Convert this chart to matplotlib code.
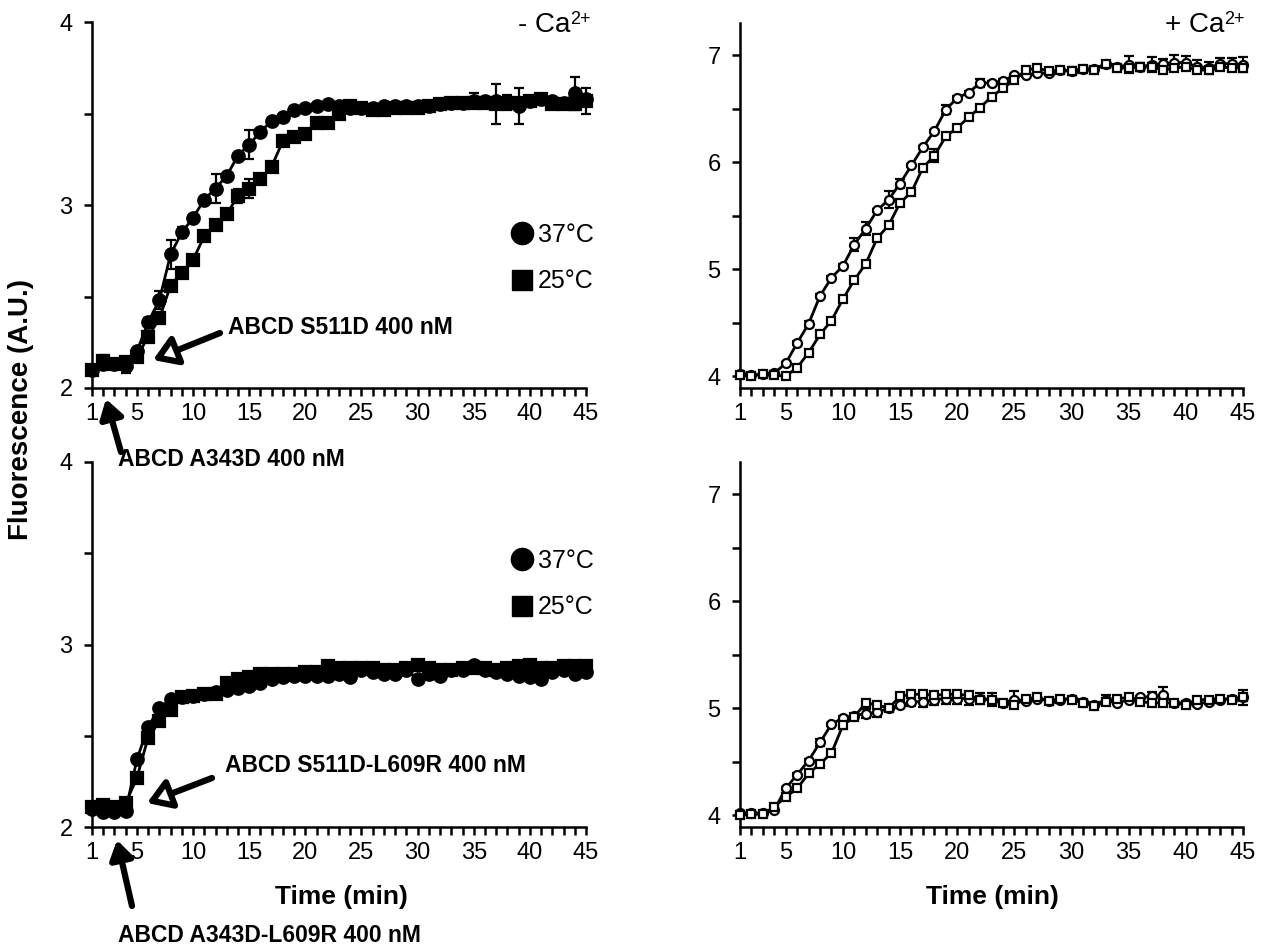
import matplotlib
matplotlib.use("Agg")
import matplotlib.pyplot as plt
from matplotlib.lines import Line2D
from matplotlib.patches import FancyArrowPatch

plt.rcParams['font.family'] = ['Liberation Sans', 'DejaVu Sans']

time = list(range(1, 46))
xticklabels = ['1', '5', '10', '15', '20', '25', '30', '35', '40', '45']

# - Ca2+, ABCD S511D
tl_37 = [2.10, 2.13, 2.13, 2.12, 2.20, 2.36, 2.48, 2.73, 2.85, 2.93,
         3.03, 3.09, 3.16, 3.27, 3.33, 3.40, 3.46, 3.48, 3.52, 3.53,
         3.54, 3.55, 3.54, 3.53, 3.53, 3.53, 3.54, 3.54, 3.54, 3.54,
         3.54, 3.55, 3.56, 3.56, 3.57, 3.57, 3.57, 3.56, 3.54, 3.57,
         3.58, 3.57, 3.56, 3.61, 3.58]
tl_37_err = [0.015, 0.02, 0.015, 0.04, 0.02, 0.02, 0.05, 0.08, 0.03, 0.015,
             0.015, 0.08, 0.015, 0.015, 0.08, 0.015, 0.015, 0.015, 0.02, 0.015,
             0.02, 0.015, 0.015, 0.015, 0.015, 0.015, 0.015, 0.015, 0.015, 0.015,
             0.015, 0.015, 0.015, 0.015, 0.04, 0.015, 0.015, 0.015, 0.1, 0.015,
             0.015, 0.015, 0.015, 0.09, 0.02]
tl_25 = [2.10, 2.15, 2.13, 2.14, 2.17, 2.28, 2.38, 2.56, 2.63, 2.70,
         2.83, 2.89, 2.95, 3.05, 3.09, 3.14, 3.21, 3.35, 3.37, 3.39,
         3.45, 3.45, 3.50, 3.54, 3.53, 3.52, 3.52, 3.53, 3.53, 3.53,
         3.54, 3.55, 3.56, 3.56, 3.56, 3.56, 3.55, 3.56, 3.56, 3.57,
         3.58, 3.55, 3.55, 3.55, 3.57]
tl_25_err = [0.015, 0.03, 0.015, 0.015, 0.015, 0.015, 0.015, 0.02, 0.015, 0.015,
             0.015, 0.015, 0.015, 0.04, 0.05, 0.015, 0.015, 0.03, 0.015, 0.015,
             0.015, 0.015, 0.015, 0.03, 0.015, 0.015, 0.015, 0.015, 0.015, 0.015,
             0.015, 0.015, 0.015, 0.015, 0.015, 0.015, 0.11, 0.04, 0.015, 0.015,
             0.015, 0.015, 0.015, 0.015, 0.07]

# + Ca2+, ABCD S511D
tr_37 = [4.02, 4.01, 4.02, 4.03, 4.12, 4.31, 4.49, 4.75, 4.92, 5.03,
         5.23, 5.38, 5.55, 5.65, 5.80, 5.97, 6.14, 6.29, 6.49, 6.60,
         6.65, 6.74, 6.74, 6.76, 6.81, 6.81, 6.83, 6.83, 6.86, 6.85,
         6.87, 6.87, 6.92, 6.89, 6.91, 6.89, 6.91, 6.92, 6.93, 6.93,
         6.89, 6.88, 6.92, 6.92, 6.91]
tr_37_err = [0.015, 0.015, 0.015, 0.015, 0.015, 0.015, 0.03, 0.015, 0.015, 0.015,
             0.06, 0.06, 0.015, 0.08, 0.04, 0.015, 0.015, 0.015, 0.04, 0.015,
             0.015, 0.04, 0.015, 0.015, 0.015, 0.015, 0.015, 0.015, 0.015, 0.04,
             0.015, 0.015, 0.015, 0.015, 0.08, 0.04, 0.07, 0.04, 0.07, 0.06,
             0.06, 0.06, 0.05, 0.05, 0.07]
tr_25 = [4.01, 4.00, 4.02, 4.01, 4.00, 4.08, 4.22, 4.39, 4.52, 4.72,
         4.90, 5.05, 5.29, 5.41, 5.62, 5.72, 5.95, 6.06, 6.24, 6.32,
         6.42, 6.51, 6.61, 6.69, 6.77, 6.86, 6.88, 6.85, 6.86, 6.85,
         6.87, 6.86, 6.92, 6.88, 6.88, 6.89, 6.89, 6.86, 6.88, 6.89,
         6.86, 6.86, 6.89, 6.88, 6.88]
tr_25_err = [0.015, 0.015, 0.015, 0.015, 0.02, 0.015, 0.015, 0.015, 0.015, 0.015,
             0.015, 0.015, 0.015, 0.015, 0.015, 0.015, 0.015, 0.06, 0.015, 0.015,
             0.015, 0.015, 0.015, 0.015, 0.015, 0.015, 0.015, 0.015, 0.015, 0.015,
             0.015, 0.015, 0.015, 0.015, 0.03, 0.04, 0.04, 0.03, 0.03, 0.03,
             0.03, 0.03, 0.03, 0.03, 0.03]

# - Ca2+, ABCD S511D-L609R
bl_37 = [2.10, 2.08, 2.08, 2.09, 2.37, 2.55, 2.65, 2.70, 2.71, 2.72,
         2.73, 2.74, 2.75, 2.76, 2.77, 2.79, 2.81, 2.82, 2.83, 2.83,
         2.83, 2.83, 2.84, 2.82, 2.86, 2.85, 2.84, 2.84, 2.86, 2.81,
         2.84, 2.83, 2.86, 2.86, 2.89, 2.86, 2.85, 2.84, 2.83, 2.82,
         2.81, 2.85, 2.86, 2.84, 2.85]
bl_37_err = [0.01] * 45
bl_25 = [2.11, 2.12, 2.11, 2.13, 2.27, 2.49, 2.58, 2.64, 2.71, 2.72,
         2.73, 2.73, 2.79, 2.81, 2.82, 2.84, 2.84, 2.84, 2.84, 2.85,
         2.85, 2.88, 2.87, 2.87, 2.87, 2.87, 2.86, 2.86, 2.87, 2.89,
         2.87, 2.86, 2.86, 2.87, 2.87, 2.87, 2.86, 2.87, 2.88, 2.89,
         2.87, 2.87, 2.88, 2.88, 2.88]
bl_25_err = [0.01, 0.02, 0.01, 0.01, 0.01, 0.01, 0.01, 0.01, 0.01, 0.01,
             0.01, 0.01, 0.01, 0.02, 0.02, 0.01, 0.01, 0.01, 0.01, 0.01,
             0.01, 0.02, 0.01, 0.01, 0.01, 0.01, 0.01, 0.01, 0.01, 0.02,
             0.01, 0.01, 0.01, 0.01, 0.01, 0.01, 0.01, 0.01, 0.02, 0.02,
             0.01, 0.01, 0.02, 0.01, 0.01]

# + Ca2+, ABCD S511D-L609R
br_37 = [4.02, 4.02, 4.02, 4.05, 4.25, 4.38, 4.51, 4.68, 4.85, 4.91,
         4.93, 4.95, 4.96, 5.00, 5.03, 5.06, 5.06, 5.08, 5.09, 5.09,
         5.09, 5.09, 5.08, 5.05, 5.08, 5.07, 5.09, 5.07, 5.08, 5.09,
         5.06, 5.03, 5.08, 5.05, 5.08, 5.10, 5.11, 5.12, 5.05, 5.05,
         5.04, 5.06, 5.08, 5.09, 5.10]
br_37_err = [0.015, 0.015, 0.015, 0.015, 0.015, 0.015, 0.015, 0.03, 0.015, 0.015,
             0.015, 0.04, 0.04, 0.015, 0.03, 0.04, 0.05, 0.05, 0.05, 0.05,
             0.06, 0.05, 0.06, 0.03, 0.08, 0.015, 0.015, 0.015, 0.015, 0.015,
             0.015, 0.015, 0.04, 0.015, 0.015, 0.015, 0.04, 0.08, 0.015, 0.015,
             0.015, 0.015, 0.015, 0.015, 0.07]
br_25 = [4.00, 4.01, 4.01, 4.08, 4.17, 4.25, 4.39, 4.48, 4.58, 4.84,
         4.92, 5.05, 5.03, 5.00, 5.11, 5.13, 5.13, 5.12, 5.13, 5.13,
         5.12, 5.08, 5.08, 5.05, 5.03, 5.09, 5.10, 5.07, 5.09, 5.08,
         5.05, 5.02, 5.06, 5.09, 5.10, 5.06, 5.05, 5.05, 5.05, 5.03,
         5.08, 5.08, 5.09, 5.08, 5.10]
br_25_err = [0.015, 0.02, 0.015, 0.015, 0.015, 0.015, 0.015, 0.015, 0.015, 0.03,
             0.015, 0.015, 0.015, 0.015, 0.015, 0.03, 0.03, 0.03, 0.03, 0.03,
             0.015, 0.015, 0.015, 0.015, 0.015, 0.015, 0.015, 0.015, 0.015, 0.015,
             0.015, 0.015, 0.015, 0.015, 0.015, 0.015, 0.015, 0.015, 0.015, 0.015,
             0.015, 0.015, 0.015, 0.015, 0.015]

W, H = 1279, 951
fig = plt.figure(figsize=(W / 100, H / 100), dpi=100)


def make_axes(left, right, top, bottom):
    return fig.add_axes([left / W, 1 - bottom / H, (right - left) / W, (bottom - top) / H])


def style_axes(ax, ylim, yticks, ylabels):
    ax.set_xlim(1, 45)
    ax.set_ylim(*ylim)
    for s in ['top', 'right']:
        ax.spines[s].set_visible(False)
    for s in ['left', 'bottom']:
        ax.spines[s].set_linewidth(1.8)
    ax.set_xticks(time)
    ax.set_xticklabels([str(t) if str(t) in xticklabels else '' for t in time])
    ax.set_yticks(yticks)
    ax.set_yticklabels(ylabels)
    ax.tick_params(direction='out', length=6, width=1.8, labelsize=17, pad=5)
    ax.tick_params(axis='y', pad=8)
    ax.patch.set_alpha(0)


def draw_series(ax, y, err, marker, filled, ms):
    ax.errorbar(time, y, yerr=err, color='black', lw=2, marker=marker, ms=ms,
                mfc='black' if filled else 'white', mec='black', mew=1.6,
                elinewidth=1.6, capsize=3.5, capthick=1.6, clip_on=False, zorder=3)


left_ticks = [2, 2.5, 3, 3.5, 4]
left_labels = ['2', '', '3', '', '4']
right_ticks = [4, 4.5, 5, 5.5, 6, 6.5, 7]
right_labels = ['4', '', '5', '', '6', '', '7']

ax_tl = make_axes(92, 586, 22, 388)
ax_tr = make_axes(740, 1243, 23, 388)
ax_bl = make_axes(92, 586, 462, 827)
ax_br = make_axes(740, 1243, 462, 827)

for ax, a, ae, b, be in [(ax_tl, tl_37, tl_37_err, tl_25, tl_25_err),
                         (ax_bl, bl_37, bl_37_err, bl_25, bl_25_err)]:
    style_axes(ax, (2, 4), left_ticks, left_labels)
    draw_series(ax, a, ae, 'o', True, 9)
    draw_series(ax, b, be, 's', True, 8)

for ax, a, ae, b, be in [(ax_tr, tr_37, tr_37_err, tr_25, tr_25_err),
                         (ax_br, br_37, br_37_err, br_25, br_25_err)]:
    style_axes(ax, (3.89, 7.3), right_ticks, right_labels)
    draw_series(ax, a, ae, 'o', False, 6.5)
    draw_series(ax, b, be, 's', False, 6)

# legends
handles = [Line2D([], [], marker='o', ls='none', color='black', ms=16),
           Line2D([], [], marker='s', ls='none', color='black', ms=15)]
for ax, yc in [(ax_tl, 258), (ax_bl, 584)]:
    ax.legend(handles, ['37°C', '25°C'], loc='center right', frameon=False,
              fontsize=18, handletextpad=0.15, labelspacing=0.9, handlelength=1.0,
              borderaxespad=0, bbox_to_anchor=(604 / W, 1 - yc / H),
              bbox_transform=fig.transFigure)


def fig_xy(x, y):
    return (x / W, 1 - y / H)


# titles: "Ca" with a small raised "2+"
for right_edge, sign in [(591, '-'), (1245, '+')]:
    fig.text(*fig_xy(right_edge, 20), '2+', fontsize=13, ha='right', va='center')
    fig.text(*fig_xy(right_edge - 21, 25), sign + ' Ca', fontsize=20, ha='right', va='center')

# axis labels
fig.text(21 / W, 1 - 410 / H, 'Fluorescence (A.U.)', fontsize=20, fontweight='bold',
         rotation=90, ha='center', va='center')
fig.text(341 / W, 1 - 897 / H, 'Time (min)', fontsize=19, fontweight='bold',
         ha='center', va='center')
fig.text(992 / W, 1 - 897 / H, 'Time (min)', fontsize=19, fontweight='bold',
         ha='center', va='center')


def arrow_label(tail, tip, text, text_xy, open_head):
    fig.text(*fig_xy(*text_xy), text, fontsize=16.5, fontweight='bold',
             ha='left', va='center')
    if open_head:
        style = '-|>,head_length=0.7,head_width=0.45'
    else:
        style = '-|>,head_length=0.55,head_width=0.35'
    fig.add_artist(FancyArrowPatch(
        fig_xy(*tail), fig_xy(*tip), transform=fig.transFigure,
        arrowstyle=style, mutation_scale=20, shrinkA=0, shrinkB=0,
        lw=4.5, fc='white' if open_head else 'black', ec='black', zorder=5))


arrow_label((220, 333), (153, 360), 'ABCD S511D 400 nM', (228, 327), True)
arrow_label((121, 452), (106, 399), 'ABCD A343D 400 nM', (118, 460), False)
arrow_label((212, 778), (147, 803), 'ABCD S511D-L609R 400 nM', (225, 766), True)
arrow_label((132, 906), (117, 840), 'ABCD A343D-L609R 400 nM', (118, 935), False)

fig.savefig('out.png', dpi=100)
